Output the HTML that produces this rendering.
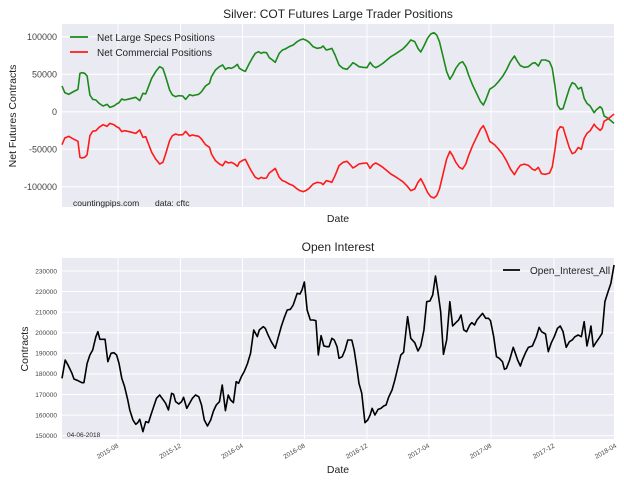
<!DOCTYPE html>
<html><head><meta charset="utf-8"><style>
body{margin:0;background:#fff;}
svg{display:block;font-family:"Liberation Sans",sans-serif;}
</style></head><body>
<svg width="624" height="485" viewBox="0 0 624 485" xmlns="http://www.w3.org/2000/svg">
<rect width="624" height="485" fill="#fff"/>
<!-- plot 1 -->
<rect x="62" y="24" width="552" height="183" fill="#eaeaf2"/>
<g stroke="#fff" stroke-width="1">
<line x1="62" x2="614" y1="36.7" y2="36.7"/><line x1="62" x2="614" y1="74.3" y2="74.3"/><line x1="62" x2="614" y1="111.7" y2="111.7"/><line x1="62" x2="614" y1="149.3" y2="149.3"/><line x1="62" x2="614" y1="186.7" y2="186.7"/>
<line y1="24" y2="207" x1="118" x2="118"/><line y1="24" y2="207" x1="180.5" x2="180.5"/><line y1="24" y2="207" x1="242.5" x2="242.5"/><line y1="24" y2="207" x1="304.5" x2="304.5"/><line y1="24" y2="207" x1="367" x2="367"/><line y1="24" y2="207" x1="429" x2="429"/><line y1="24" y2="207" x1="491" x2="491"/><line y1="24" y2="207" x1="554" x2="554"/>
</g>
<g font-size="9" fill="#444" text-anchor="end">
<text x="57" y="40">100000</text><text x="57" y="77.5">50000</text><text x="57" y="115">0</text><text x="57" y="152.5">-50000</text><text x="57" y="190">-100000</text>
</g>
<g transform="translate(0.22,0) scale(0.3986,0.33333)" fill="none" stroke-width="1.6" stroke-linejoin="round">
<polyline id="g1" vector-effect="non-scaling-stroke" stroke="#1a8a1a" points=""/>
<polyline id="r1" vector-effect="non-scaling-stroke" stroke="#ff1a1a" points=""/>
</g>
<text x="338" y="18" font-size="12" text-anchor="middle" fill="#222">Silver: COT Futures Large Trader Positions</text>
<text transform="translate(16,116) rotate(-90)" font-size="10.5" text-anchor="middle" fill="#222">Net Futures Contracts</text>
<text x="338" y="222" font-size="10.5" text-anchor="middle" fill="#222">Date</text>
<text x="73" y="206" font-size="8.5" fill="#222">countingpips.com</text>
<text x="155" y="206" font-size="8.5" fill="#222">data: cftc</text>
<line x1="70" x2="88" y1="37" y2="37" stroke="#1a8a1a" stroke-width="1.8"/>
<text x="97" y="41" font-size="10" fill="#222">Net Large Specs Positions</text>
<line x1="70" x2="88" y1="52" y2="52" stroke="#ff1a1a" stroke-width="1.8"/>
<text x="97" y="56" font-size="10" fill="#222">Net Commercial Positions</text>

<!-- plot 2 -->
<rect x="62" y="258" width="552" height="181" fill="#eaeaf2"/>
<g stroke="#fff" stroke-width="1">
<line y1="258" y2="439" x1="118" x2="118"/><line y1="258" y2="439" x1="180.5" x2="180.5"/><line y1="258" y2="439" x1="242.5" x2="242.5"/><line y1="258" y2="439" x1="304.5" x2="304.5"/><line y1="258" y2="439" x1="367" x2="367"/><line y1="258" y2="439" x1="429" x2="429"/><line y1="258" y2="439" x1="491" x2="491"/><line y1="258" y2="439" x1="554" x2="554"/>
<line x1="62" x2="614" y1="435.7" y2="435.7"/><line x1="62" x2="614" y1="415.1" y2="415.1"/><line x1="62" x2="614" y1="394.5" y2="394.5"/><line x1="62" x2="614" y1="373.9" y2="373.9"/><line x1="62" x2="614" y1="353.3" y2="353.3"/><line x1="62" x2="614" y1="332.7" y2="332.7"/><line x1="62" x2="614" y1="312.1" y2="312.1"/><line x1="62" x2="614" y1="291.5" y2="291.5"/><line x1="62" x2="614" y1="271" y2="271"/>
</g>
<g font-size="6.5" fill="#444" text-anchor="end">
<text x="57" y="438">150000</text><text x="57" y="417.4">160000</text><text x="57" y="396.8">170000</text><text x="57" y="376.2">180000</text><text x="57" y="355.6">190000</text><text x="57" y="335">200000</text><text x="57" y="314.4">210000</text><text x="57" y="293.8">220000</text><text x="57" y="273.3">230000</text>
</g>
<g font-size="6.5" fill="#444" text-anchor="end">
<text transform="translate(119,447) rotate(-30)">2015-08</text>
<text transform="translate(181.5,447) rotate(-30)">2015-12</text>
<text transform="translate(243.5,447) rotate(-30)">2016-04</text>
<text transform="translate(305.5,447) rotate(-30)">2016-08</text>
<text transform="translate(368,447) rotate(-30)">2016-12</text>
<text transform="translate(430,447) rotate(-30)">2017-04</text>
<text transform="translate(492,447) rotate(-30)">2017-08</text>
<text transform="translate(555,447) rotate(-30)">2017-12</text>
<text transform="translate(617,447) rotate(-30)">2018-04</text>
</g>
<g transform="translate(0.22,240) scale(0.3986,0.33333)" fill="none">
<polyline vector-effect="non-scaling-stroke" stroke="#000" stroke-width="1.6" stroke-linejoin="round" points="155,415 163,360 170,375 180,400 185,417 195,422 205,428 210,428 218,370 225,345 232,330 240,290 245,275 250,298 258,298 263,298 270,365 278,340 285,338 292,345 298,370 305,415 312,440 320,480 325,510 333,540 340,553 345,548 350,538 358,575 365,545 372,548 378,525 385,500 392,475 400,465 408,478 415,490 422,510 430,460 435,463 440,485 448,492 455,485 460,472 468,505 475,490 482,475 490,465 498,470 505,495 512,540 520,558 528,540 535,513 542,495 550,485 557,435 565,512 572,465 578,480 585,488 592,425 598,430 605,410 612,395 620,372 628,340 636,270 645,290 650,270 660,260 665,265 672,285 680,305 690,325 698,290 705,260 712,235 720,210 728,208 735,195 745,160 752,162 757,150 763,126 770,210 778,240 785,240 792,242 798,345 805,287 812,318 820,320 825,320 832,295 838,300 845,320 850,355 858,350 865,330 872,300 877,300 882,300 888,330 895,385 900,430 907,460 915,548 922,540 928,525 933,505 940,525 948,508 955,505 962,498 968,495 975,470 983,450 990,420 998,380 1005,345 1012,337 1022,230 1030,295 1040,308 1048,333 1055,318 1063,270 1070,185 1078,183 1085,165 1092,108 1098,155 1105,215 1112,343 1120,300 1128,185 1135,258 1143,248 1150,240 1156,225 1163,270 1170,275 1178,255 1183,248 1190,255 1196,240 1203,230 1210,220 1218,235 1225,235 1230,242 1238,290 1245,350 1252,355 1260,365 1265,388 1270,385 1278,360 1287,322 1293,342 1298,360 1305,378 1310,360 1318,338 1325,322 1335,318 1345,290 1352,262 1358,275 1368,282 1375,335 1382,310 1390,290 1398,265 1405,258 1412,275 1420,322 1428,305 1435,300 1442,290 1450,285 1458,290 1465,245 1472,318 1478,285 1482,258 1488,320 1495,307 1503,293 1510,280 1517,185 1525,155 1532,130 1540,75"/>
</g>
<text x="338" y="251" font-size="12" text-anchor="middle" fill="#222">Open Interest</text>
<text transform="translate(28,349) rotate(-90)" font-size="10.5" text-anchor="middle" fill="#222">Contracts</text>
<text x="338" y="473" font-size="10.5" text-anchor="middle" fill="#222">Date</text>
<text x="67" y="437" font-size="6.5" fill="#222">04-06-2018</text>
<line x1="503" x2="520" y1="270" y2="270" stroke="#000" stroke-width="1.8"/>
<text x="530" y="274" font-size="10" fill="#222">Open_Interest_All</text>
</svg>
<script>
var G=[[155,258],[162,278],[172,283],[182,276],[192,270],[195,268],[200,220],[205,218],[212,220],[218,228],[225,285],[232,298],[240,300],[248,310],[258,318],[268,313],[275,322],[285,318],[292,312],[298,308],[305,297],[312,300],[320,298],[330,295],[340,292],[350,302],[358,280],[365,282],[372,260],[380,235],[390,215],[400,200],[408,205],[415,230],[425,270],[432,285],[440,290],[448,287],[458,288],[465,298],[475,284],[482,287],[490,285],[498,283],[505,275],[515,258],[525,250],[530,230],[540,210],[550,200],[558,195],[565,208],[572,203],[580,205],[588,200],[595,193],[600,205],[610,212],[615,214],[625,190],[632,175],[640,160],[648,155],[655,160],[660,157],[668,158],[675,173],[683,180],[690,187],[700,160],[708,150],[715,147],[725,140],[735,135],[745,125],[752,120],[760,117],[768,121],[775,127],[785,140],[795,145],[805,143],[810,138],[818,150],[825,148],[832,145],[840,165],[850,195],[860,205],[870,208],[878,198],[885,188],[892,193],[900,200],[910,202],[920,203],[928,187],[935,198],[942,203],[950,198],[960,190],[970,180],[980,170],[990,163],[1000,155],[1010,147],[1020,135],[1030,120],[1040,125],[1048,145],[1055,156],[1063,138],[1072,115],[1080,102],[1088,98],[1095,105],[1102,125],[1110,165],[1120,215],[1128,238],[1135,225],[1143,205],[1152,190],[1160,185],[1168,200],[1175,225],[1185,255],[1195,280],[1205,305],[1212,315],[1218,300],[1228,268],[1240,258],[1250,245],[1260,230],[1270,210],[1280,185],[1290,168],[1298,185],[1305,197],[1315,202],[1325,200],[1335,190],[1342,188],[1350,198],[1358,180],[1368,180],[1378,185],[1385,205],[1392,260],[1398,315],[1405,328],[1412,326],[1420,295],[1428,265],[1435,248],[1442,252],[1450,267],[1458,262],[1465,295],[1472,310],[1480,318],[1490,338],[1495,330],[1505,320],[1510,326],[1515,348],[1525,355],[1540,370]];
function off(x){if(x<1300)return 22;if(x<1400)return 22+(x-1300)*0.16;return 38+(x-1400)*0.03;}
document.getElementById('g1').setAttribute('points',G.map(function(p){return p.join(',')}).join(' '));
document.getElementById('r1').setAttribute('points',G.map(function(p){return p[0]+','+(670-p[1]+off(p[0]))}).join(' '));
</script>
</body></html>
